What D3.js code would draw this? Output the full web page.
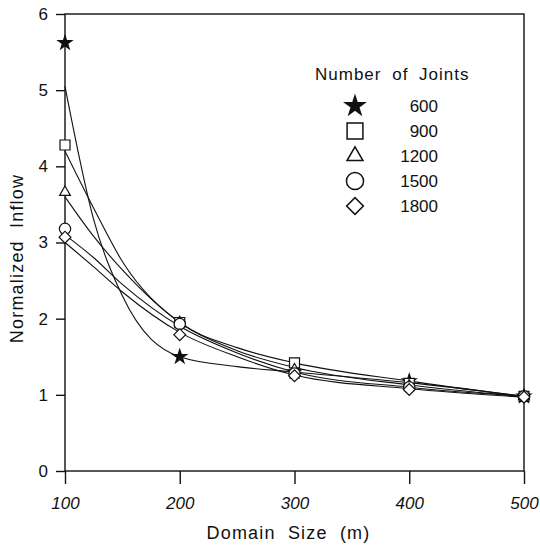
<!DOCTYPE html>
<html>
<head>
<meta charset="utf-8">
<script src="https://cdn.jsdelivr.net/npm/d3@7"></script>
<style>
  body { margin: 0; background: #fff; }
  text { font-family: "Liberation Sans", Arial, sans-serif; fill: #111; }
</style>
</head>
<body>
<div id="chart"></div>
<script>
// domain sizes where the runs were done
var domainSizes = [100, 200, 300, 400, 500];
var joints = ["600", "900", "1200", "1500", "1800"];

// measured (marker) values
var inflow600 = [5.62, 1.50, 1.30, 1.18, 0.98];
var inflow900 = [4.28, 1.95, 1.42, 1.15, 0.98];
var inflow1200 = [3.66, 1.95, 1.33, 1.12, 0.98];
var inflow1500 = [3.18, 1.93, 1.28, 1.10, 0.98];
var inflow1800 = [3.07, 1.79, 1.25, 1.07, 0.97];

// smoothed curves as drawn on the figure
var fitX = [100, 125, 150, 200, 250, 300, 400, 500];
var fit600 = [5.05, 3.30, 2.30, 1.50, 1.37, 1.30, 1.16, 0.98];
var fit900 = [4.20, 3.45, 2.75, 1.95, 1.62, 1.42, 1.18, 0.98];
var fit1200 = [3.60, 3.08, 2.64, 1.95, 1.58, 1.36, 1.13, 0.98];
var fit1500 = [3.10, 2.80, 2.45, 1.90, 1.55, 1.30, 1.10, 0.98];
var fit1800 = [3.00, 2.68, 2.35, 1.82, 1.50, 1.26, 1.08, 0.97];

var xTicks = [100, 200, 300, 400, 500];
var yTicks = [0, 1, 2, 3, 4, 5, 6];

function init() {
    var w = 540;
    var h = 548;
    var margin = { top: 14, right: 16, bottom: 77, left: 65 };
    var width = w - margin.left - margin.right;
    var height = h - margin.top - margin.bottom;

    var series = [
        { name: joints[0], vals: inflow600, fit: fit600, shape: "star" },
        { name: joints[1], vals: inflow900, fit: fit900, shape: "square" },
        { name: joints[2], vals: inflow1200, fit: fit1200, shape: "triangle" },
        { name: joints[3], vals: inflow1500, fit: fit1500, shape: "circle" },
        { name: joints[4], vals: inflow1800, fit: fit1800, shape: "diamond" }
    ];

    var svg = d3.select("#chart")
        .append("svg")
        .attr("width", w)
        .attr("height", h)
        .append("g")
        .attr("transform", "translate(" + margin.left + "," + margin.top + ")");

    var xScale = d3.scaleLinear().domain([100, 500]).range([0, width]);
    var yScale = d3.scaleLinear().domain([0, 6]).range([height, 0]);

    function symbolFor(shape, big) {
        var s = d3.symbol();
        if (shape == "star") return s.type(d3.symbolStar).size(big ? 115 : 58)();
        if (shape == "square") return s.type(d3.symbolSquare).size(big ? 250 : 100)();
        if (shape == "triangle") return s.type(d3.symbolTriangle).size(big ? 110 : 50)();
        if (shape == "circle") return s.type(d3.symbolCircle).size(big ? 230 : 100)();
        return s.type(d3.symbolSquare).size(big ? 140 : 70)();
    }

    // frame
    svg.append("rect")
        .attr("width", width)
        .attr("height", height)
        .attr("fill", "none")
        .attr("stroke", "#111")
        .attr("stroke-width", 1.4);

    var line = d3.line()
        .x(function(d) { return xScale(d.x); })
        .y(function(d) { return yScale(d.y); })
        .curve(d3.curveMonotoneX);

    series.forEach(function(s) {
        var pts = fitX.map(function(x, i) { return { x: x, y: s.fit[i] }; });
        svg.append("path")
            .datum(pts)
            .attr("d", line)
            .attr("fill", "none")
            .attr("stroke", "#111")
            .attr("stroke-width", 1.1);
    });

    series.forEach(function(s) {
        svg.selectAll(null)
            .data(domainSizes)
            .enter()
            .append("path")
            .attr("d", symbolFor(s.shape, false))
            .attr("transform", function(d, i) {
                var t = "translate(" + xScale(d) + "," + yScale(s.vals[i]) + ")";
                if (s.shape == "diamond") t += " rotate(45)";
                return t;
            })
            .attr("fill", s.shape == "star" ? "#111" : "#fff")
            .attr("stroke", "#111")
            .attr("stroke-width", 1.2);
    });

    // axes
    var xAxis = d3.axisBottom(xScale).tickValues(xTicks).tickSize(13).tickPadding(13);
    var gx = svg.append("g")
        .attr("transform", "translate(0," + height + ")")
        .call(xAxis);
    gx.select(".domain").remove();
    gx.selectAll("line").attr("stroke", "#111").attr("stroke-width", 1.4);
    gx.selectAll("text")
        .style("font-size", "17px")
        .style("font-style", "italic");

    var yAxis = d3.axisLeft(yScale).tickValues(yTicks).tickFormat(d3.format("d"))
        .tickSize(9).tickPadding(8);
    var gy = svg.append("g").call(yAxis);
    gy.select(".domain").remove();
    gy.selectAll("line").attr("stroke", "#111").attr("stroke-width", 1.4);
    gy.selectAll("text").style("font-size", "17px");

    svg.append("text")
        .attr("x", width / 2 - 6)
        .attr("y", height + 68)
        .attr("text-anchor", "middle")
        .style("font-size", "18px")
        .style("letter-spacing", "1.2px")
        .style("word-spacing", "6px")
        .text("Domain Size (m)");

    svg.append("text")
        .attr("transform", "translate(-42," + (height / 2 + 16) + ") rotate(-90)")
        .attr("text-anchor", "middle")
        .style("font-size", "18px")
        .style("letter-spacing", "1.2px")
        .style("word-spacing", "6px")
        .text("Normalized Inflow");

    // legend
    var legend = svg.append("g").attr("transform", "translate(250,0)");
    legend.append("text")
        .attr("x", 0)
        .attr("y", 66)
        .style("font-size", "17px")
        .style("letter-spacing", "1px")
        .style("word-spacing", "5px")
        .text("Number of Joints");

    series.forEach(function(s, i) {
        var cy = 92 + i * 25;
        legend.append("path")
            .attr("d", symbolFor(s.shape, true))
            .attr("transform", "translate(40," + cy + ")" + (s.shape == "diamond" ? " rotate(45)" : ""))
            .attr("fill", s.shape == "star" ? "#111" : "#fff")
            .attr("stroke", "#111")
            .attr("stroke-width", 1.5);
        legend.append("text")
            .attr("x", 123)
            .attr("y", cy + 6)
            .attr("text-anchor", "end")
            .style("font-size", "17px")
            .text(s.name);
    });
}

window.onload = init;
</script>
</body>
</html>
